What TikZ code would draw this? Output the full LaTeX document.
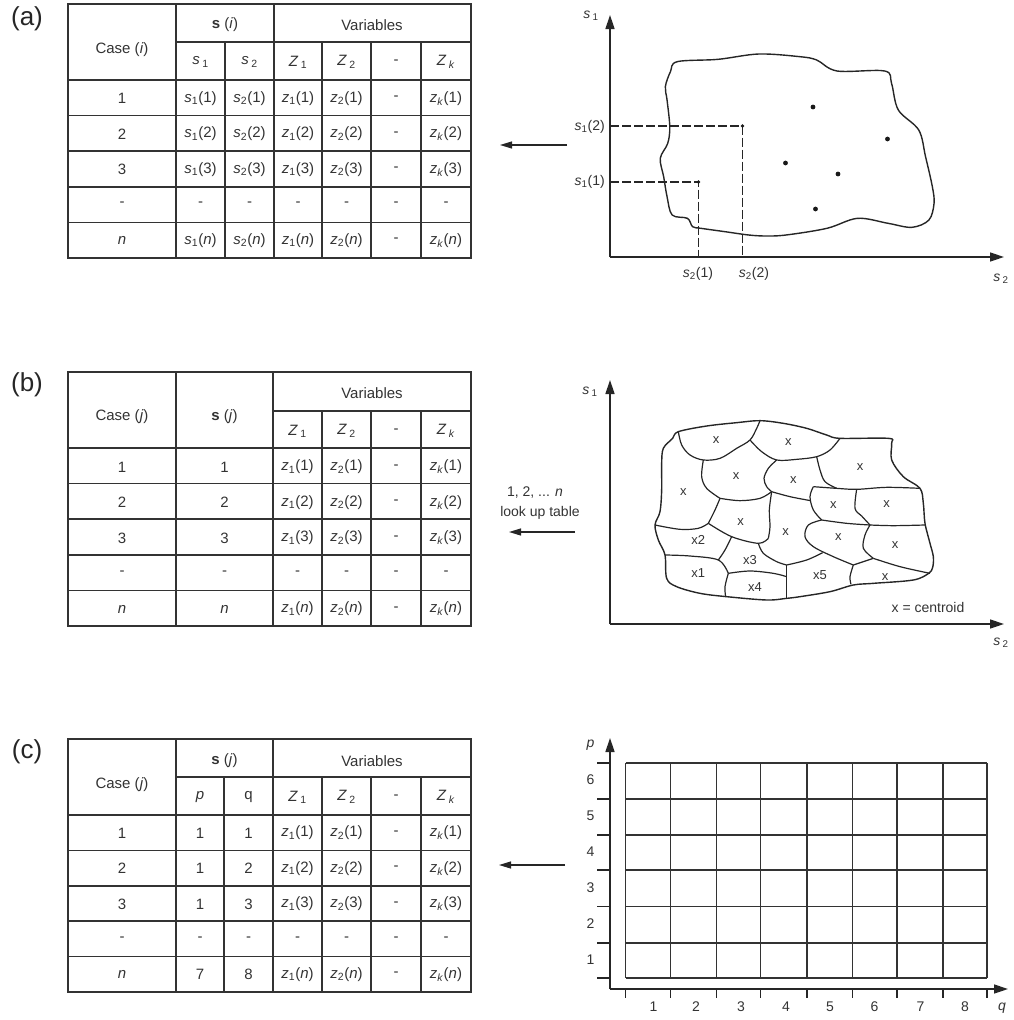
\documentclass[tikz,border=0pt]{standalone}
\usepackage{fontspec}
\setmainfont{Liberation Sans}
\usetikzlibrary{arrows.meta}

% variable notation used in the tables and on the axes
\newcommand{\svar}[1]{\textit{s}\,\textsubscript{#1}}
\newcommand{\Zhead}[1]{\textit{Z}\,\textsubscript{#1}}
\newcommand{\sarg}[2]{\textit{s}\textsubscript{#1}(#2)}
\newcommand{\zarg}[2]{\textit{z}\textsubscript{#1}(#2)}

\tikzset{
  tline/.style={line width=1.6pt, draw=black!80},
  cell/.style={font=\fontsize{15}{17}\selectfont, text=black!80, inner sep=0pt},
  lbl/.style={font=\fontsize{14}{16}\selectfont, text=black!80, inner sep=1pt},
  xlbl/.style={font=\fontsize{13}{15}\selectfont, text=black!80, inner sep=0pt},
  panel/.style={font=\fontsize{26}{28}\selectfont, text=black!85, inner sep=0pt},
  axisln/.style={line width=1.5pt, draw=black!85, -{Triangle[length=14pt,width=9pt]}},
  backarrow/.style={line width=1.2pt, draw=black!85, -{Triangle[length=12pt,width=7pt]}},
  blob/.style={line width=1.4pt, draw=black!85},
  cellb/.style={line width=1.2pt, draw=black!85},
  guide/.style={line width=1.1pt, draw=black!85, dash pattern=on 9pt off 3pt},
  gridl/.style={line width=1.3pt, draw=black!80},
  tick/.style={line width=1.2pt, draw=black!85},
}

\begin{document}
\begin{tikzpicture}[x=1pt,y=-1pt]
\useasboundingbox (0,0) rectangle (1013,1020);

% ---------------- panel labels ----------------
\node[panel] (lab-a) at (27,19) {(a)};
\node[panel] (lab-b) at (27,385) {(b)};
\node[panel] (lab-c) at (27,752) {(c)};

% ================= table (a) =================
\draw[tline] (68,4) rectangle (471,258);
\draw[tline] (176,42) -- (471,42);
\draw[tline] (68,80) -- (471,80);
\foreach \yy in {115.6,151.2,186.8,222.4} \draw[tline] (68,\yy) -- (471,\yy);
\foreach \xx in {176,274} \draw[tline] (\xx,4) -- (\xx,258);
\foreach \xx in {225,322,371,421} \draw[tline] (\xx,42) -- (\xx,258);

\node[cell] (ta-case) at (122,50) {Case (\textit{i})};
\node[cell] (ta-s) at (225,25) {\textbf{s} (\textit{i})};
\node[cell] (ta-var) at (372,25) {Variables};
\foreach \xx/\ct [count=\k] in {200.5/\svar{1}, 249.5/\svar{2}, 298/\Zhead{1}, 346.5/\Zhead{2}, 396/-, 446/\Zhead{\textit{k}}}
  \node[cell] (ta-h\k) at (\xx,62) {\ct};
\foreach \xx/\ct [count=\k] in {122/1, 200.5/\sarg{1}{1}, 249.5/\sarg{2}{1}, 298/\zarg{1}{1}, 346.5/\zarg{2}{1}, 396/-, 446/\zarg{\textit{k}}{1}}
  \node[cell] (ta-r1-\k) at (\xx,98.5) {\ct};
\foreach \xx/\ct [count=\k] in {122/2, 200.5/\sarg{1}{2}, 249.5/\sarg{2}{2}, 298/\zarg{1}{2}, 346.5/\zarg{2}{2}, 396/-, 446/\zarg{\textit{k}}{2}}
  \node[cell] (ta-r2-\k) at (\xx,134) {\ct};
\foreach \xx/\ct [count=\k] in {122/3, 200.5/\sarg{1}{3}, 249.5/\sarg{2}{3}, 298/\zarg{1}{3}, 346.5/\zarg{2}{3}, 396/-, 446/\zarg{\textit{k}}{3}}
  \node[cell] (ta-r3-\k) at (\xx,169.5) {\ct};
\foreach \xx [count=\k] in {122,200.5,249.5,298,346.5,396,446}
  \node[cell] (ta-r4-\k) at (\xx,204.5) {-};
\foreach \xx/\ct [count=\k] in {122/\textit{n}, 200.5/\sarg{1}{\textit{n}}, 249.5/\sarg{2}{\textit{n}}, 298/\zarg{1}{\textit{n}}, 346.5/\zarg{2}{\textit{n}}, 396/-, 446/\zarg{\textit{k}}{\textit{n}}}
  \node[cell] (ta-r5-\k) at (\xx,240.5) {\ct};

% ================= graph (a) =================
\coordinate (ga-o) at (610,257);
\coordinate (ga-y) at (610,15);
\coordinate (ga-x) at (1004,257);
\draw[axisln] (ga-o) -- (ga-y);
\draw[axisln] (ga-o) -- (ga-x);
\node[lbl] (ga-s1) at (591,16) {\svar{1}};
\node[lbl] (ga-s2) at (1001,279) {\svar{2}};

\begin{scope}[shift={(480,0)}, xscale=0.3401, yscale=1/3]
  \draw[blob] plot[smooth cycle, tension=0.55] coordinates {
    (580,185) (700,178) (820,162) (940,170) (990,180) (1050,213) (1190,213)
    (1210,250) (1230,330) (1290,390) (1310,470) (1330,560) (1335,610)
    (1320,660) (1270,682) (1200,670) (1110,655) (1020,685) (900,705)
    (840,708) (790,705) (720,695) (650,685) (625,680) (610,655) (565,645)
    (550,590) (540,530) (530,475) (552,430) (558,380) (550,300) (545,260)
    (560,215)};
\end{scope}

\coordinate (ga-p2) at (742.5,126);
\coordinate (ga-p1) at (698.5,182);
\draw[guide] (ga-p2 -| ga-o) -- (ga-p2) -- (ga-p2 |- ga-o);
\draw[guide] (ga-p1 -| ga-o) -- (ga-p1) -- (ga-p1 |- ga-o);
\fill[black!90] (ga-p2) circle (1.8);
\fill[black!90] (ga-p1) circle (1.8);
\foreach \px/\py [count=\k] in {813/107, 887.5/139, 785.5/163, 838/174, 815.5/209}
  \fill[black!90] (\px,\py) circle (2.4);

\node[lbl, anchor=east] (ga-s12) at (606,127) {\sarg{1}{2}};
\node[lbl, anchor=east] (ga-s11) at (606,182) {\sarg{1}{1}};
\node[lbl] (ga-s21) at (698,274) {\sarg{2}{1}};
\node[lbl] (ga-s22) at (754,274) {\sarg{2}{2}};

\coordinate (arr-a1) at (567,145);
\coordinate (arr-a2) at (500,145);
\draw[backarrow] (arr-a1) -- (arr-a2);

% ================= table (b) =================
\draw[tline] (68,372) rectangle (471,626);
\draw[tline] (273,411) -- (471,411);
\draw[tline] (68,448) -- (471,448);
\foreach \yy in {483.6,519.2,554.8,590.4} \draw[tline] (68,\yy) -- (471,\yy);
\foreach \xx in {176,273} \draw[tline] (\xx,372) -- (\xx,626);
\foreach \xx in {322,371,421} \draw[tline] (\xx,411) -- (\xx,626);

\node[cell] (tb-case) at (122,417) {Case (\textit{j})};
\node[cell] (tb-s) at (224.5,417) {\textbf{s} (\textit{j})};
\node[cell] (tb-var) at (372,393) {Variables};
\foreach \xx/\ct [count=\k] in {297.5/\Zhead{1}, 346.5/\Zhead{2}, 396/-, 446/\Zhead{\textit{k}}}
  \node[cell] (tb-h\k) at (\xx,431) {\ct};
\foreach \xx/\ct [count=\k] in {122/1, 224.5/1, 297.5/\zarg{1}{1}, 346.5/\zarg{2}{1}, 396/-, 446/\zarg{\textit{k}}{1}}
  \node[cell] (tb-r1-\k) at (\xx,467) {\ct};
\foreach \xx/\ct [count=\k] in {122/2, 224.5/2, 297.5/\zarg{1}{2}, 346.5/\zarg{2}{2}, 396/-, 446/\zarg{\textit{k}}{2}}
  \node[cell] (tb-r2-\k) at (\xx,502.5) {\ct};
\foreach \xx/\ct [count=\k] in {122/3, 224.5/3, 297.5/\zarg{1}{3}, 346.5/\zarg{2}{3}, 396/-, 446/\zarg{\textit{k}}{3}}
  \node[cell] (tb-r3-\k) at (\xx,538) {\ct};
\foreach \xx [count=\k] in {122,224.5,297.5,346.5,396,446}
  \node[cell] (tb-r4-\k) at (\xx,573) {-};
\foreach \xx/\ct [count=\k] in {122/\textit{n}, 224.5/\textit{n}, 297.5/\zarg{1}{\textit{n}}, 346.5/\zarg{2}{\textit{n}}, 396/-, 446/\zarg{\textit{k}}{\textit{n}}}
  \node[cell] (tb-r5-\k) at (\xx,609) {\ct};

% ================= graph (b) =================
\coordinate (gb-o) at (610,624);
\coordinate (gb-y) at (610,380);
\coordinate (gb-x) at (1004,624);
\draw[axisln] (gb-o) -- (gb-y);
\draw[axisln] (gb-o) -- (gb-x);
\node[lbl] (gb-s1) at (590,392) {\svar{1}};
\node[lbl] (gb-s2) at (1001,643) {\svar{2}};
\node[lbl] (gb-key) at (928,607) {x = centroid};

\begin{scope}[shift={(640,410)}, scale=1/3]
  % outline of the region
  \draw[blob] plot[smooth cycle, tension=0.55] coordinates {
    (115,65) (200,48) (290,38) (360,32) (430,40) (500,55) (560,75) (600,85)
    (745,85) (755,100) (755,150) (790,200) (840,235) (850,280) (855,340)
    (870,400) (880,440) (878,472) (866,490) (820,510) (700,520) (640,525)
    (570,545) (480,560) (440,565) (380,570) (260,560) (180,550) (110,530)
    (80,505) (75,435) (55,390) (45,345) (60,305) (65,240) (65,160) (70,115)
    (98,85)};
  % cell boundaries
  \draw[cellb] plot[smooth, tension=0.55] coordinates {(115,65) (125,105) (150,135) (190,150) (240,145) (290,115) (330,90) (350,55) (360,32)};
  \draw[cellb] plot[smooth, tension=0.55] coordinates {(330,90) (365,125) (410,150) (470,148) (530,140) (570,120) (600,85)};
  \draw[cellb] plot[smooth, tension=0.55] coordinates {(190,150) (185,200) (200,235) (240,265)};
  \draw[cellb] plot[smooth, tension=0.55] coordinates {(410,150) (385,175) (372,205) (380,230) (395,245)};
  \draw[cellb] plot[smooth, tension=0.55] coordinates {(240,265) (300,272) (360,265) (395,245)};
  \draw[cellb] plot[smooth, tension=0.55] coordinates {(530,140) (540,180) (555,215) (590,235)};
  \draw[cellb] plot[smooth, tension=0.55] coordinates {(520,230) (590,235) (650,238) (740,232) (840,235)};
  \draw[cellb] plot[smooth, tension=0.55] coordinates {(395,245) (450,260) (512,272)};
  \draw[cellb] plot[smooth, tension=0.55] coordinates {(520,230) (510,260) (520,300) (545,330)};
  \draw[cellb] plot[smooth, tension=0.55] coordinates {(650,238) (645,295) (665,318) (690,345)};
  \draw[cellb] plot[smooth, tension=0.55] coordinates {(690,345) (760,347) (855,345)};
  \draw[cellb] plot[smooth, tension=0.55] coordinates {(545,330) (620,340) (690,345)};
  \draw[cellb] plot[smooth, tension=0.55] coordinates {(545,330) (505,345) (495,380) (520,410) (580,440) (640,465)};
  \draw[cellb] plot[smooth, tension=0.55] coordinates {(690,345) (675,375) (670,415) (700,445)};
  \draw[cellb] (640,465) -- (700,445);
  \draw[cellb] plot[smooth, tension=0.55] coordinates {(700,445) (780,470) (870,490)};
  \draw[cellb] plot[smooth, tension=0.55] coordinates {(640,465) (630,500) (633,523)};
  \draw[cellb] plot[smooth, tension=0.55] coordinates {(440,465) (500,450) (548,428)};
  \draw[cellb] plot[smooth, tension=0.55] coordinates {(395,245) (388,300) (390,350) (385,385)};
  \draw[cellb] plot[smooth, tension=0.55] coordinates {(205,340) (275,380) (355,400) (385,385)};
  \draw[cellb] plot[smooth, tension=0.55] coordinates {(240,265) (225,300) (205,340)};
  \draw[cellb] plot[smooth, tension=0.55] coordinates {(45,345) (120,358) (175,355) (205,340)};
  \draw[cellb] plot[smooth, tension=0.55] coordinates {(355,400) (370,430) (410,455) (440,465)};
  \draw[cellb] plot[smooth, tension=0.55] coordinates {(275,380) (255,420) (235,450)};
  \draw[cellb] plot[smooth, tension=0.55] coordinates {(75,435) (150,438) (235,450) (265,490)};
  \draw[cellb] plot[smooth, tension=0.55] coordinates {(265,490) (330,483) (400,490) (440,500)};
  \draw[cellb] plot[smooth, tension=0.55] coordinates {(440,465) (440,530) (440,565)};
  \draw[cellb] plot[smooth, tension=0.55] coordinates {(265,490) (255,530) (257,561)};
  % centroids
  \foreach \cx/\cy/\ct [count=\k] in {228/90/x, 445/95/x, 660/170/x, 130/245/x, 288/198/x,
      460/210/x, 580/285/x, 740/283/x, 302/335/x, 437/365/x, 595/380/x, 765/405/x,
      175/390/x2, 330/450/x3, 175/490/x1, 345/530/x4, 540/495/x5, 735/500/x}
    \node[xlbl] (gb-c\k) at (\cx,\cy) {\ct};
\end{scope}

\node[lbl] (gb-lut1) at (535,493) {1, 2, ... \textit{n}};
\node[lbl] (gb-lut2) at (540,513) {look up table};
\coordinate (arr-b1) at (575,532);
\coordinate (arr-b2) at (509,532);
\draw[backarrow] (arr-b1) -- (arr-b2);

% ================= table (c) =================
\draw[tline] (68,739) rectangle (471,992);
\draw[tline] (176,777) -- (471,777);
\draw[tline] (68,815) -- (471,815);
\foreach \yy in {850.4,885.8,921.2,956.6} \draw[tline] (68,\yy) -- (471,\yy);
\foreach \xx in {176,273} \draw[tline] (\xx,739) -- (\xx,992);
\foreach \xx in {224,322,371,421} \draw[tline] (\xx,777) -- (\xx,992);

\node[cell] (tc-case) at (122,785) {Case (\textit{j})};
\node[cell] (tc-s) at (224.5,761) {\textbf{s} (\textit{j})};
\node[cell] (tc-var) at (372,761) {Variables};
\foreach \xx/\ct [count=\k] in {200/\textit{p}, 248.5/q, 297.5/\Zhead{1}, 346.5/\Zhead{2}, 396/-, 446/\Zhead{\textit{k}}}
  \node[cell] (tc-h\k) at (\xx,797) {\ct};
\foreach \xx/\ct [count=\k] in {122/1, 200/1, 248.5/1, 297.5/\zarg{1}{1}, 346.5/\zarg{2}{1}, 396/-, 446/\zarg{\textit{k}}{1}}
  \node[cell] (tc-r1-\k) at (\xx,833) {\ct};
\foreach \xx/\ct [count=\k] in {122/2, 200/1, 248.5/2, 297.5/\zarg{1}{2}, 346.5/\zarg{2}{2}, 396/-, 446/\zarg{\textit{k}}{2}}
  \node[cell] (tc-r2-\k) at (\xx,868.5) {\ct};
\foreach \xx/\ct [count=\k] in {122/3, 200/1, 248.5/3, 297.5/\zarg{1}{3}, 346.5/\zarg{2}{3}, 396/-, 446/\zarg{\textit{k}}{3}}
  \node[cell] (tc-r3-\k) at (\xx,904) {\ct};
\foreach \xx [count=\k] in {122,200,248.5,297.5,346.5,396,446}
  \node[cell] (tc-r4-\k) at (\xx,939) {-};
\foreach \xx/\ct [count=\k] in {122/\textit{n}, 200/7, 248.5/8, 297.5/\zarg{1}{\textit{n}}, 346.5/\zarg{2}{\textit{n}}, 396/-, 446/\zarg{\textit{k}}{\textit{n}}}
  \node[cell] (tc-r5-\k) at (\xx,974.5) {\ct};

% ================= graph (c) =================
\coordinate (gc-o) at (610,989);
\coordinate (gc-y) at (610,738);
\coordinate (gc-x) at (1008,989);
\draw[axisln] (gc-o) -- (gc-y);
\draw[axisln] (gc-o) -- (gc-x);
\node[lbl] (gc-p) at (590.5,745) {\textit{p}};
\node[lbl] (gc-q) at (1002,1008) {\textit{q}};

\foreach \xx in {625.5,670.5,716.5,760.5,807,852.5,897,943,987} {
  \draw[gridl] (\xx,763) -- (\xx,978);
  \draw[tick] (\xx,989) -- (\xx,998);
}
\foreach \yy in {763,799,835,870,906.5,943,978} {
  \draw[gridl] (625.5,\yy) -- (987,\yy);
  \draw[tick] (597,\yy) -- (610,\yy);
}
\foreach \xx [count=\k] in {653.5,696,741,786,830,874.5,920.5,965}
  \node[lbl] (gc-q\k) at (\xx,1007) {\k};
\foreach \yy [count=\k] in {960,924,888,852,816,780}
  \node[lbl] (gc-p\k) at (590.5,\yy) {\k};

\coordinate (arr-c1) at (565,865);
\coordinate (arr-c2) at (499,865);
\draw[backarrow] (arr-c1) -- (arr-c2);

\end{tikzpicture}
\end{document}
